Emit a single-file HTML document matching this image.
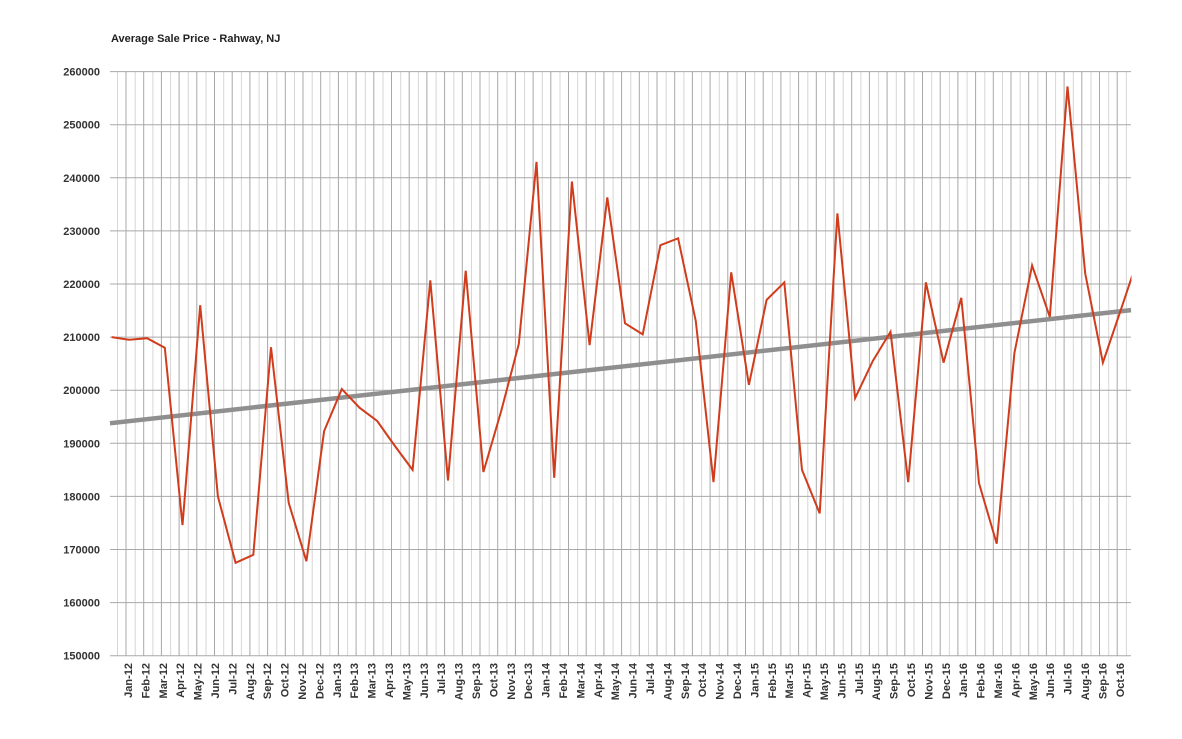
<!DOCTYPE html>
<html><head><meta charset="utf-8"><style>
body{margin:0;background:#fff;}
svg{display:block;font-family:"Liberation Sans",Arial,sans-serif;}
</style></head><body>
<svg id="chart" width="1182" height="739" viewBox="0 0 1182 739">
<text x="111" y="42" font-size="11" font-weight="bold" fill="#222">Average Sale Price - Rahway, NJ</text>
<defs><clipPath id="clip"><rect x="108" y="60" width="1023.5" height="600"/></clipPath></defs>
<g id="grid"></g><g id="ylabels"></g><g id="xlabels"></g>
<g id="series" clip-path="url(#clip)"></g>
</svg>
<script>
const categories=["Jan-12","Feb-12","Mar-12","Apr-12","May-12","Jun-12","Jul-12","Aug-12","Sep-12","Oct-12","Nov-12","Dec-12",
"Jan-13","Feb-13","Mar-13","Apr-13","May-13","Jun-13","Jul-13","Aug-13","Sep-13","Oct-13","Nov-13","Dec-13",
"Jan-14","Feb-14","Mar-14","Apr-14","May-14","Jun-14","Jul-14","Aug-14","Sep-14","Oct-14","Nov-14","Dec-14",
"Jan-15","Feb-15","Mar-15","Apr-15","May-15","Jun-15","Jul-15","Aug-15","Sep-15","Oct-15","Nov-15","Dec-15",
"Jan-16","Feb-16","Mar-16","Apr-16","May-16","Jun-16","Jul-16","Aug-16","Sep-16","Oct-16","Nov-16"];
const prices=[210000,209500,209800,208000,174600,216000,180000,167500,169000,208100,178800,167800,
192300,200200,196700,194200,189500,185000,220700,183000,222500,184600,196000,208700,
243000,183500,239300,208500,236300,212600,210500,227300,228600,213000,182700,222200,
201000,217000,220300,185000,176800,233300,198500,205500,211000,182700,220300,205200,
217400,182500,171100,207000,223500,213800,257200,222000,205200,215000,225000];
const yTicks=[150000,160000,170000,180000,190000,200000,210000,220000,230000,240000,250000,260000];
const NS="http://www.w3.org/2000/svg";
const X0=111.7,DX=17.7,PL=110,PR=1131,YT=71.6,YB=655.7,VMIN=150000,VMAX=260000;
const LX0=128,LDX=17.4;
function xs(i){return X0+DX*i;}
function ys(v){return YB-(v-VMIN)/(VMAX-VMIN)*(YB-YT);}
function mk(tag,attrs,parent){const e=document.createElementNS(NS,tag);for(const k in attrs)e.setAttribute(k,attrs[k]);parent.appendChild(e);return e;}
const grid=document.getElementById('grid'),yl=document.getElementById('ylabels'),xl=document.getElementById('xlabels'),ser=document.getElementById('series');
for(let i=-1;i<categories.length;i++){
  const xl1=xs(i)+5.8, xd=xs(i)+14.3;
  if(xl1>PL&&xl1<PR){const l=mk('line',{x1:xl1,x2:xl1,y1:YT,y2:YB,stroke:'#d6d6d6','stroke-width':1},grid);
    
    }
  if(xd>PL&&xd<PR){const l=mk('line',{x1:xd,x2:xd,y1:YT,y2:YB,stroke:'#a8a8a8','stroke-width':1},grid);
    
    }
}
yTicks.forEach(v=>{
  const y=ys(v);
  const l=mk('line',{x1:PL,x2:PR,y1:y,y2:y,stroke:'#a8a8a8','stroke-width':1},grid);
  
  
  const t=mk('text',{x:100,y:y+4,'text-anchor':'end','font-size':11,'font-weight':'bold',fill:'#333'},yl);
  t.textContent=v;
  
  
});
categories.forEach((c,i)=>{
  const x=LX0+LDX*i;
  if(x>PR)return;
  const t=mk('text',{x:0,y:0,'text-anchor':'end','font-size':11,'font-weight':'bold',fill:'#333',transform:`translate(${(x+4).toFixed(1)},663) rotate(-90)`},xl);
  t.textContent=c;
  
  
});
const n=categories.length-1;let sx=0,sy=0,sxx=0,sxy=0;
for(let i=0;i<n;i++){sx+=i;sy+=prices[i];sxx+=i*i;sxy+=i*prices[i];}
const b=(n*sxy-sx*sy)/(n*sxx-sx*sx),a=(sy-b*sx)/n;
const iL=(PL-X0)/DX,iR=(PR-X0)/DX;
const tr=mk('line',{x1:PL,y1:ys(a+b*iL),x2:PR,y2:ys(a+b*iR),stroke:'#8f8f8f','stroke-width':4.5},ser);


const pts=prices.map((v,i)=>xs(i).toFixed(1)+','+ys(v).toFixed(1)).join(' ');
const pl=mk('polyline',{points:pts,fill:'none',stroke:'#d03c1c','stroke-width':2,'stroke-linejoin':'miter'},ser);


</script>
</body></html>
